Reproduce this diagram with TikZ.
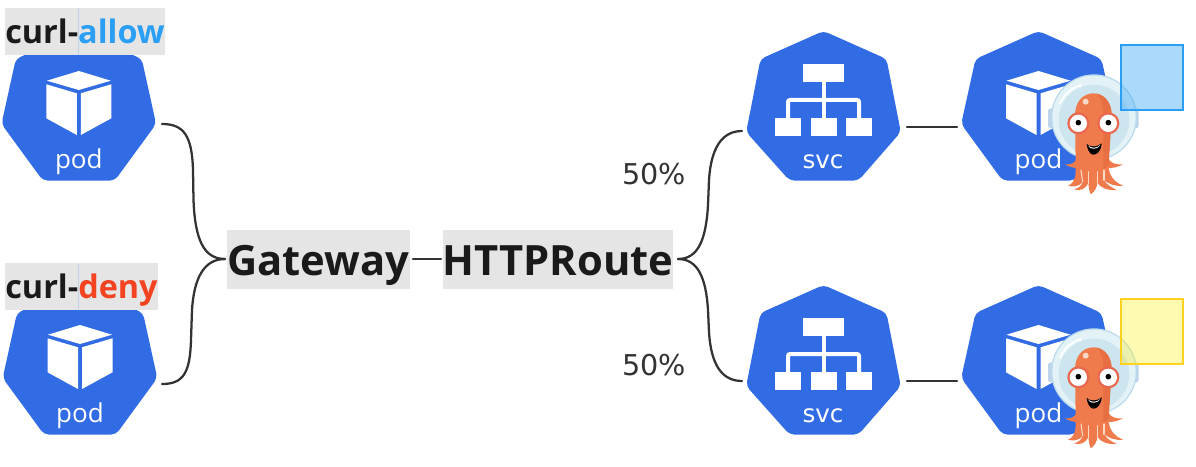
\documentclass[tikz,border=0pt]{standalone}
\usepackage{fontspec}
\setmainfont{Open Sans}
\newfontfamily\djv{DejaVu Sans}
\definecolor{kube}{HTML}{326CE5}
\definecolor{ink}{HTML}{1A1A1A}
\definecolor{wirec}{HTML}{333333}
\definecolor{boxgray}{HTML}{E5E5E5}
\definecolor{allowc}{HTML}{2B9FF5}
\definecolor{denyc}{HTML}{F44321}
\definecolor{octo}{HTML}{EF7B4D}
\definecolor{octod}{HTML}{E86F42}
\definecolor{octol}{HTML}{FCD9C6}
\definecolor{ringc}{HTML}{B9DAEC}
\definecolor{bubble}{HTML}{E3F2F7}
\definecolor{bubblei}{HTML}{CDE5EE}
\definecolor{earc}{HTML}{BCD3EA}
\definecolor{eyer}{HTML}{E9674F}
\definecolor{noteedge}{HTML}{FFD21F}
\definecolor{notefill}{HTML}{FFEE00}
\tikzset{
  hept/.style={fill=kube,rounded corners=3.5pt},
  wire/.style={draw=wirec,line width=1.7pt,line cap=round},
  lab/.style={fill=boxgray,inner xsep=0pt,inner ysep=0pt,text=ink,font=\bfseries\fontsize{24.3}{28}\selectfont,
     text height=26.6pt,text depth=8.6pt},
  big/.style={fill=boxgray,inner xsep=0pt,inner ysep=0pt,text=ink,font=\bfseries\fontsize{31.3}{36}\selectfont,
     text height=33.75pt,text depth=10.7pt},
  iconlab/.style={text=white,anchor=base,inner sep=0pt,font=\fontsize{19.5}{22}\selectfont},
  svclab/.style={text=white,anchor=base,inner sep=0pt,font=\djv\fontsize{18.5}{22}\selectfont},
  pct/.style={text=wirec,anchor=base,inner sep=0pt,font=\djv\fontsize{21.5}{26}\selectfont},
}
\newcommand{\podicon}[2]{% cx, dy
  \begin{scope}[shift={(#1,#2)}]
    \fill[hept] (0,31) -- (63,59) -- (77.3,124) -- (36,180.5) -- (-36,180.5) -- (-77.3,124) -- (-63,59) -- cycle;
    \fill[white] (0,71) -- (32,80.7) -- (0,90) -- (-32,80.7) -- cycle;
    \fill[white] (-32.5,84.3) -- (-2,93.3) -- (-2,135) -- (-32.5,118.3) -- cycle;
    \fill[white] (32.5,84.3) -- (2,93.3) -- (2,135) -- (32.5,118.3) -- cycle;
  \end{scope}}
\newcommand{\svcicon}[2]{% cx, dy
  \begin{scope}[shift={(#1,#2)}]
    \fill[hept] (0,31) -- (63,59) -- (77.3,132) -- (35,180.5) -- (-34,180.5) -- (-77.3,132) -- (-63,59) -- cycle;
    \fill[white] (-20.5,64.3) rectangle (20.5,82.3);
    \fill[white] (-48.5,118.3) rectangle (-22.5,136);
    \fill[white] (-12.8,118.3) rectangle (13.2,136);
    \fill[white] (22.5,118.3) rectangle (48.8,136);
    \draw[white,line width=3pt] (0,82) -- (0,118.5);
    \draw[white,line width=3pt,rounded corners=1.5pt] (-35.5,118.5) -- (-35.5,100) -- (35.5,100) -- (35.5,118.5);
  \end{scope}}
\newcommand{\octopus}[2]{% offset
  \begin{scope}[shift={(#1,#2)},scale=0.3333]
    % helmet
    \fill[earc,rounded corners=2pt] (24,115) rectangle (40,175);
    \fill[earc,rounded corners=2pt] (280,115) rectangle (296,175);
    \fill[ringc] (162,142) circle (129);
    \fill[bubble] (162,142) circle (125);
    \fill[bubblei] (162,150) circle (106);
    \draw[white,line width=1.3pt,line cap=round] (60,100) .. controls (75,70) and (95,55) .. (118,47);
    \fill[white] (120,47) circle (5);
    % side arms
    \fill[octo] (110,265) .. controls (105,280) and (92,285) .. (74,283) .. controls (90,292) and (110,297) .. (120,292) -- cycle;
    \fill[octo] (205,265) .. controls (212,280) and (228,285) .. (249,283) .. controls (232,292) and (212,297) .. (200,292) -- cycle;
    % head, body and tentacles
    \fill[octo] (105,135) .. controls (105,95) and (130,70) .. (160,70) .. controls (190,70) and (215,95) .. (215,135)
       -- (205,285) .. controls (207,320) and (225,338) .. (250,347)
       .. controls (225,350) and (205,342) .. (192,330)
       .. controls (200,345) and (215,352) .. (230,360)
       .. controls (200,362) and (180,352) .. (172,338)
       .. controls (172,350) and (165,365) .. (152,373)
       .. controls (148,365) and (147,355) .. (145,340)
       .. controls (135,358) and (120,364) .. (102,358)
       .. controls (118,355) and (125,345) .. (128,335)
       .. controls (118,350) and (100,352) .. (84,347)
       .. controls (105,338) and (108,320) .. (107,285) -- cycle;
    \fill[octod] (170,71) .. controls (195,75) and (215,100) .. (215,135) -- (206,285) .. controls (200,293) and (195,295) .. (190,297) -- (190,140) .. controls (190,110) and (185,85) .. (170,71) -- cycle;
    \fill[octol] (137,95) circle (9);
    % streaks
    \foreach \sx/\sy/\ex/\ey in {123/300/128/336,145/305/145/341,172/305/172/339,192/300/192/331}
      \draw[octol,line width=.8pt,line cap=round] (\sx,\sy) -- (\ex,\ey);
    % eyes
    \foreach \ex in {115,205} {
      \fill[eyer] (\ex,160) circle (33);
      \fill[white] (\ex,160) circle (26);
      \fill[black] (\ex,158) circle (8.5);
    }
    % mouth
    \fill[black] (140,222) .. controls (150,232) and (172,232) .. (185,220) .. controls (184,245) and (168,255) .. (160,254) .. controls (150,254) and (142,240) .. (140,222) -- cycle;
    \fill[white] (143,226) .. controls (155,236) and (170,236) .. (182,224) .. controls (175,238) and (150,242) .. (143,226) -- cycle;
  \end{scope}}
\begin{document}
\begin{tikzpicture}[x=0.75pt,y=-0.75pt]
\useasboundingbox (0,0) rectangle (1196,467);
% icons
\podicon{78.8}{0}
\podicon{80}{254}
\svcicon{823.5}{0}
\svcicon{823.5}{254}
\podicon{1038.5}{0}
\podicon{1038.5}{254}
% icon labels
\node[iconlab] (poda) at (78.8,168) {pod};
\node[iconlab] (podb) at (80,422) {pod};
\node[svclab] (svca) at (823,168) {svc};
\node[svclab] (svcb) at (823,422) {svc};
\node[iconlab] (podc) at (1038.5,168) {pod};
\node[iconlab] (podd) at (1038.5,422) {pod};
% titled boxes
\node[lab,minimum width=120pt] (allow) at (85,31.5) {curl-{\color{allowc}allow}};
\node[lab,minimum width=114.75pt] (deny) at (81.5,286.5) {curl-{\color{denyc}deny}};
\draw[earc,line width=.4pt] (78,8) -- (78,55);
\draw[earc,line width=.4pt] (78,264) -- (78,309);
\node[big,minimum width=137.25pt] (gateway) at (318.2,259.7) {Gateway};
\node[big,minimum width=172.5pt] (route) at (558,259.7) {HTTPRoute};
% ports
\coordinate (pa) at (162,124);
\coordinate (pb) at (162,384);
\coordinate (gw) at (225,259);
\coordinate (ge) at (413,259);
\coordinate (rw) at (441,259);
\coordinate (re) at (678,259);
\coordinate (sa) at (742,131);
\coordinate (sb) at (742,381);
\coordinate (sae) at (907,127);
\coordinate (pce) at (957,127);
\coordinate (sbe) at (907,381);
\coordinate (pde) at (957,381);
% connectors
\draw[wire] (pa) .. controls (184,124) and (192,136) .. (193,170) -- (193.5,200) .. controls (195,240) and (204,259) .. (gw);
\draw[wire] (pb) .. controls (184,384) and (190,372) .. (191,340) -- (192,310) .. controls (194,278) and (204,259) .. (gw);
\draw[wire] (ge) -- (rw);
\draw[wire] (re) .. controls (698,259) and (706,240) .. (708,205) -- (709,180) .. controls (711,148) and (722,131) .. (sa);
\draw[wire] (re) .. controls (698,259) and (706,278) .. (708,310) -- (709,332) .. controls (711,365) and (722,381) .. (sb);
\draw[wire] (sae) -- (pce);
\draw[wire] (sbe) -- (pde);
% percentages
\node[pct] (pa50) at (654,184) {50\%};
\node[pct] (pb50) at (654,375) {50\%};
% mascots
\octopus{1040}{70}
\octopus{1040}{324}
% notes
\draw[draw=allowc,line width=2.2pt,fill=allowc,fill opacity=.4] (1121,45) rectangle (1183,110);
\draw[draw=noteedge,line width=2.2pt,fill=notefill,fill opacity=.3] (1121,299) rectangle (1183,364);
\end{tikzpicture}
\end{document}
